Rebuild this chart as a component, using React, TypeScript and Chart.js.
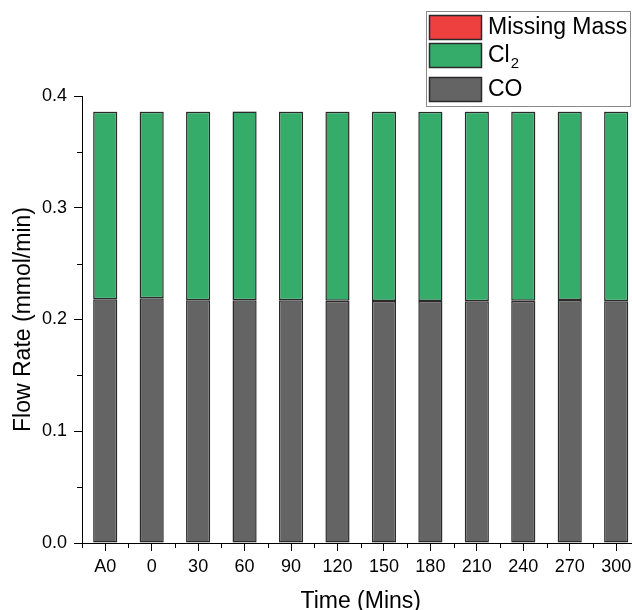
import React, { useEffect, useRef } from 'react';
import { Chart, registerables } from 'chart.js';

Chart.register(...registerables);

const categories = ['A0', '0', '30', '60', '90', '120', '150', '180', '210', '240', '270', '300'];
const coValues = [0.2181, 0.219, 0.2172, 0.2172, 0.2172, 0.2168, 0.2166, 0.2166, 0.2163, 0.2168, 0.2174, 0.2163];
const cl2Values = [0.1679, 0.167, 0.1688, 0.1689, 0.1688, 0.1692, 0.1693, 0.1692, 0.1697, 0.1692, 0.1686, 0.1697];
const missingValues = [0.0002, 0.0002, 0.0002, 0.0002, 0.0002, 0.0002, 0.0002, 0.0002, 0.0002, 0.0002, 0.0002, 0.0002];
const yMinorTicks = [0.05, 0.15, 0.25, 0.35];

const FONT = "'Liberation Sans', Arial, sans-serif";
const RED = '#EF4040';
const GREEN = '#36AC6B';
const GREY = '#646464';
const EDGE = '#2a2a2a';

const minorTicksPlugin = {
  id: 'minorTicks',
  afterDraw(chart: any) {
    const ctx = chart.ctx;
    const x = chart.scales.x;
    const y = chart.scales.y;
    const area = chart.chartArea;
    ctx.save();
    ctx.strokeStyle = '#000';
    ctx.lineWidth = 1;
    ctx.beginPath();
    yMinorTicks.forEach((v) => {
      const py = Math.round(y.getPixelForValue(v)) + 0.5;
      ctx.moveTo(area.left - 5, py);
      ctx.lineTo(area.left, py);
    });
    const n = categories.length;
    for (let i = 0; i <= n; i++) {
      const p0 = x.getPixelForValue(0);
      const p1 = x.getPixelForValue(1);
      const step = p1 - p0;
      const px = Math.round(p0 - step / 2 + i * step) + 0.5;
      ctx.moveTo(px, area.bottom);
      ctx.lineTo(px, area.bottom + 5);
    }
    ctx.stroke();
    ctx.restore();
  },
};

const legendPlugin = {
  id: 'boxLegend',
  afterDraw(chart: any) {
    const ctx = chart.ctx;
    ctx.save();
    const boxX = 426.5;
    const boxY = 11.5;
    const boxW = 204;
    const boxH = 95;
    ctx.fillStyle = '#fff';
    ctx.fillRect(boxX, boxY, boxW, boxH);
    ctx.strokeStyle = '#8a8a8a';
    ctx.lineWidth = 1;
    ctx.strokeRect(boxX, boxY, boxW, boxH);
    const rows = [
      { label: 'Missing Mass', color: RED, top: 15, sub: '' },
      { label: 'Cl', color: GREEN, top: 43, sub: '2' },
      { label: 'CO', color: GREY, top: 77, sub: '' },
    ];
    rows.forEach((r) => {
      ctx.fillStyle = r.color;
      ctx.fillRect(429.5, r.top + 0.5, 52, 24);
      ctx.strokeStyle = EDGE;
      ctx.lineWidth = 1.5;
      ctx.strokeRect(429.5, r.top + 0.5, 52, 24);
      ctx.fillStyle = '#000';
      ctx.font = `23px ${FONT}`;
      ctx.textBaseline = 'middle';
      ctx.textAlign = 'left';
      const cy = r.top + 13;
      ctx.fillText(r.label, 488, cy);
      if (r.sub) {
        const w = ctx.measureText(r.label).width;
        ctx.font = `15px ${FONT}`;
        ctx.fillText(r.sub, 488 + w + 1, cy + 8);
      }
    });
    ctx.restore();
  },
};

export default function App() {
  const canvasRef = useRef<HTMLCanvasElement | null>(null);

  useEffect(() => {
    if (!canvasRef.current) return;
    const mk = (label: string, data: number[], color: string) => ({
      label,
      data,
      backgroundColor: color,
      borderColor: EDGE,
      borderWidth: 1.5,
      borderSkipped: false,
      categoryPercentage: 1,
      barPercentage: 0.52,
    });
    const chart = new Chart(canvasRef.current, {
      type: 'bar',
      data: {
        labels: categories,
        datasets: [
          mk('CO', coValues, GREY),
          mk('Cl2', cl2Values, GREEN),
          mk('Missing Mass', missingValues, RED),
        ],
      },
      options: {
        animation: false,
        responsive: false,
        devicePixelRatio: 1,
        layout: { padding: { left: 0, top: 96, right: 10.6, bottom: 0 } },
        plugins: {
          legend: { display: false },
          tooltip: { enabled: false },
        },
        scales: {
          x: {
            stacked: true,
            offset: true,
            afterFit: (s: any) => {
              s.height = 77;
            },
            grid: {
              offset: false,
              drawOnChartArea: false,
              drawTicks: true,
              tickLength: 8,
              tickColor: '#000',
            },
            border: { display: true, color: '#000', width: 1 },
            ticks: {
              color: '#000',
              font: { family: FONT, size: 18 },
              padding: 5,
              maxRotation: 0,
              autoSkip: false,
            },
            title: {
              display: true,
              text: 'Time (Mins)',
              color: '#000',
              font: { family: FONT, size: 23 },
              padding: { top: 0, bottom: 5 },
            },
          },
          y: {
            stacked: true,
            min: 0,
            max: 0.4,
            afterFit: (s: any) => {
              s.width = 82;
            },
            grid: {
              drawOnChartArea: false,
              drawTicks: true,
              tickLength: 8,
              tickColor: '#000',
            },
            border: { display: true, color: '#000', width: 1 },
            ticks: {
              stepSize: 0.1,
              color: '#000',
              font: { family: FONT, size: 18 },
              padding: 7,
              callback: (v: any) => Number(v).toFixed(1),
            },
            title: {
              display: true,
              text: 'Flow Rate (mmol/min)',
              color: '#000',
              font: { family: FONT, size: 23 },
              padding: { top: 10, bottom: 0 },
            },
          },
        },
      },
      plugins: [minorTicksPlugin, legendPlugin],
    });
    return () => chart.destroy();
  }, []);

  return (
    <div
      style={{
        position: 'fixed',
        left: 0,
        top: 0,
        width: 632,
        height: 610,
        overflow: 'hidden',
        background: '#fff',
      }}
    >
      <canvas ref={canvasRef} width={650} height={620} style={{ display: 'block' }} />
    </div>
  );
}
